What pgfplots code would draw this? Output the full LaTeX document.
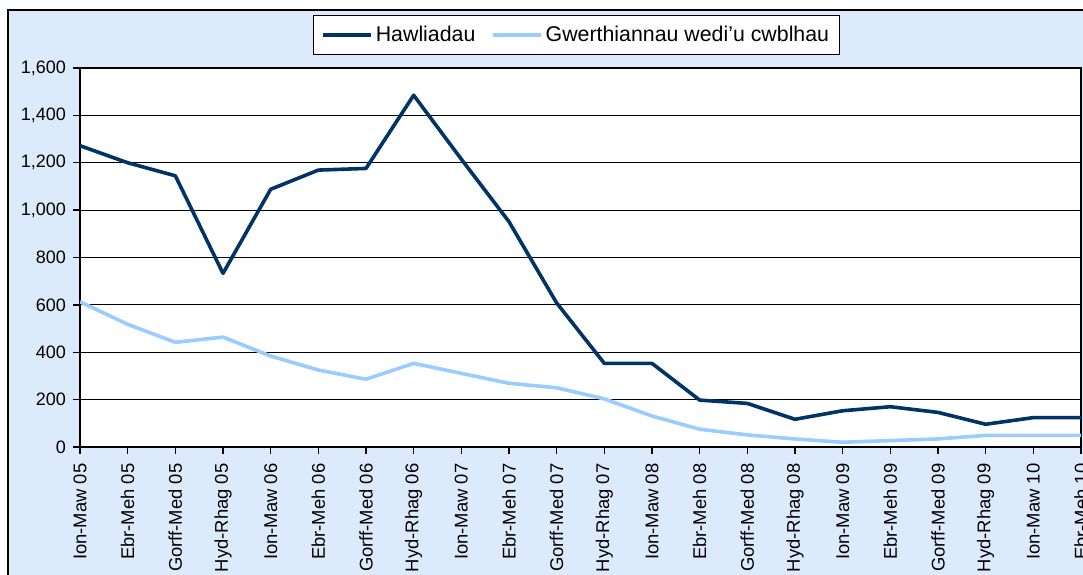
\documentclass[border=0pt]{standalone}
\usepackage{fontspec}
\setmainfont{Liberation Sans}
\usepackage{pgfplots}
\pgfplotsset{compat=1.18}
\definecolor{bg}{HTML}{DCEAFC}
\definecolor{dark}{HTML}{003366}
\definecolor{light}{HTML}{99CCFF}
\begin{document}
\begin{tikzpicture}[x=0.75pt,y=0.75pt]
\useasboundingbox (0,0) rectangle (1083,575);
\clip (0,0) rectangle (1083,575);
\fill[bg] (8,-25) rectangle (1100,565);
\draw[line width=1.5pt] (8,-25) -- (8,565) -- (1100,565);
\begin{axis}[
  at={(80pt*0.75,128pt*0.75)}, anchor=south west,
  scale only axis, width=750.75pt, height=284.25pt,
  xmin=0, xmax=21, ymin=0, ymax=1600,
  axis background/.style={fill=white},
  axis line style={line width=1.5pt},
  xtick={0,...,21},
  xticklabels={Ion-Maw 05,Ebr-Meh 05,Gorff-Med 05,Hyd-Rhag 05,Ion-Maw 06,Ebr-Meh 06,Gorff-Med 06,Hyd-Rhag 06,Ion-Maw 07,Ebr-Meh 07,Gorff-Med 07,Hyd-Rhag 07,Ion-Maw 08,Ebr-Meh 08,Gorff-Med 08,Hyd-Rhag 08,Ion-Maw 09,Ebr-Meh 09,Gorff-Med 09,Hyd-Rhag 09,Ion-Maw 10,Ebr-Meh 10},
  ytick={0,200,...,1600},
  ymajorgrids, grid style={black, line width=0.75pt},
  tick align=outside, tick pos=left,
  major tick length=5pt,
  tick style={black, line width=1.1pt},
  xticklabel shift=4pt,
  yticklabel shift=2pt,
  xticklabel style={rotate=90, anchor=east, font=\fontsize{13.8}{15}\selectfont},
  yticklabel style={anchor=east, font=\fontsize{13.5}{15}\selectfont},
  /pgf/number format/1000 sep={,},
  /pgf/number format/assume math mode=true,
  legend columns=2,
  legend image code/.code={\draw[#1] (0pt,0pt) -- (36pt,0pt);},
  legend style={at={(0.4962,1.0865)}, anchor=center, draw=black, line width=1pt,
    fill=white, font=\fontsize{16}{19}\selectfont,
    inner xsep=6pt, inner ysep=6pt,
    /tikz/every even column/.append style={column sep=10pt}},
]
\addplot[dark, line width=2.7pt, line join=round] coordinates {
(0,1272) (1,1200) (2,1145) (3,733) (4,1088) (5,1169) (6,1176) (7,1485)
(8,1215) (9,951) (10,608) (11,353) (12,353) (13,198) (14,184) (15,117)
(16,153) (17,170) (18,146) (19,96) (20,124) (21,124)};
\addlegendentry{Hawliadau}
\addplot[light, line width=2.7pt, line join=round] coordinates {
(0,613) (1,518) (2,442) (3,464) (4,384) (5,325) (6,286) (7,353)
(8,311) (9,269) (10,250) (11,203) (12,131) (13,75) (14,51) (15,34)
(16,20) (17,27) (18,34) (19,49) (20,49) (21,49)};
\addlegendentry{Gwerthiannau wedi’u cwblhau}
\end{axis}
\end{tikzpicture}
\end{document}
